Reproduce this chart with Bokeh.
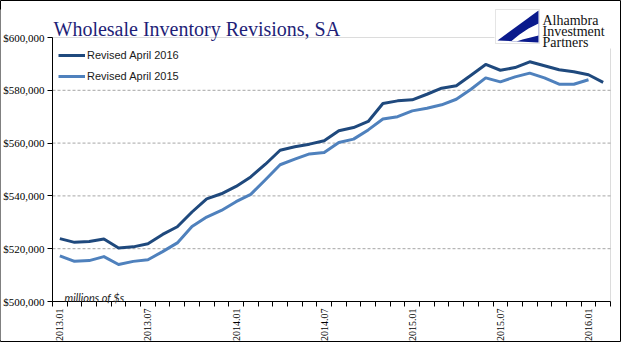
import numpy as np
from bokeh.plotting import figure
from bokeh.models import (FixedTicker, NumeralTickFormatter, Legend, LegendItem, Label,
                          BoxAnnotation, PolyAnnotation, Range1d, ColumnDataSource)
from bokeh.embed import file_html
from bokeh.resources import INLINE

# ---------------- data ----------------
months = [f"{y}.{m:02d}" for y in (2013, 2014, 2015, 2016) for m in range(1, 13)][:38]
# Revised April 2016 (thousands of $ millions)
rev2016 = [523.8, 522.4, 522.7, 523.7, 520.3, 520.7, 521.9, 525.4, 528.3, 533.9,
           538.9, 540.8, 543.6, 547.2, 552.0, 557.3, 558.6, 559.6, 560.9, 564.7,
           565.9, 568.2, 575.0, 576.0, 576.4, 578.5, 580.8, 581.7, 585.7, 589.8,
           587.6, 588.6, 590.8, 589.3, 587.8, 587.0, 585.9, 583.0]
# Revised April 2015
rev2015 = [517.3, 515.2, 515.5, 517.0, 514.0, 515.2, 515.8, 518.9, 522.2, 528.4,
           532.0, 534.5, 537.8, 540.6, 546.1, 551.8, 553.9, 555.9, 556.4, 560.2,
           561.5, 565.0, 569.1, 570.0, 572.2, 573.2, 574.5, 576.6, 580.4, 584.7,
           583.2, 585.1, 586.5, 584.7, 582.3, 582.3, 584.0]
series_names = ["Revised April 2016", "Revised April 2015"]
x_tick_labels = ["2013.01", "2013.07", "2014.01", "2014.07", "2015.01", "2015.07", "2016.01"]
y_ticks = [500000, 520000, 540000, 560000, 580000, 600000]

# ---------------- layout (frame = whole canvas) ----------------
W, H = 621, 342
OFF = 8                      # page margin
PL, PR, PT, PB = 60, 618, 45, 309   # plot area in page pixels
n = len(months)
PX = (PR - PL) / n
PY = (PB - PT) / (y_ticks[-1] - y_ticks[0])
x0 = -0.5 - (PL - OFF) / PX
x1 = x0 + W / PX
y1 = y_ticks[-1] + (PT - OFF) / PY
y0 = y1 - H / PY

def dx(sx):
    return x0 + (sx - OFF) / PX

def dy(sy):
    return y1 - (sy - OFF) / PY

p = figure(width=W, height=H, output_backend="svg", toolbar_location=None,
           x_range=Range1d(x0, x1), y_range=Range1d(y0, y1),
           min_border_left=0, min_border_right=0, min_border_top=0, min_border_bottom=0,
           background_fill_color="white", border_fill_color="white")
p.title.visible = False
p.outline_line_color = "#000000"
p.outline_line_width = 1

# left edge of the outer frame is hidden behind the chart image
p.add_layout(BoxAnnotation(left=dx(7.5), right=dx(10.5), top=dy(17), bottom=dy(348),
                           fill_color="white", fill_alpha=1, line_color=None, level="overlay"))
# plot area border (grey)
p.add_layout(BoxAnnotation(left=-0.5, right=n - 0.5, bottom=y_ticks[0], top=y_ticks[-1],
                           fill_alpha=0, line_color="#8C8C8C", line_width=1, level="underlay"))

# horizontal grid lines, only across the plot area
grid_y = y_ticks[1:-1]
p.segment(x0=[-0.5] * len(grid_y), x1=[n - 0.5] * len(grid_y), y0=grid_y, y1=grid_y,
          line_color="#A6A6A6", line_dash="3 2", line_width=1, level="underlay")

src16 = ColumnDataSource(dict(x=list(range(len(rev2016))), y=[v * 1000 for v in rev2016]))
src15 = ColumnDataSource(dict(x=list(range(len(rev2015))), y=[v * 1000 for v in rev2015]))
dark, light = "#1F497D", "#4F81BD"
r16 = p.line("x", "y", source=src16, line_color=dark, line_width=3, line_join="round")
r15 = p.line("x", "y", source=src15, line_color=light, line_width=3, line_join="round")

p.xgrid.visible = False
p.ygrid.visible = False

# x axis
xa = p.xaxis[0]
tick_idx = [months.index(m) for m in x_tick_labels]
xa.fixed_location = y_ticks[0]
xa.bounds = (-0.5, n - 0.5)
xa.ticker = FixedTicker(ticks=tick_idx, minor_ticks=[i - 0.5 for i in range(n + 1)])
xa.major_label_overrides = {i: months[i] for i in tick_idx}
xa.major_label_orientation = np.pi / 2
xa.major_tick_line_color = None
xa.major_tick_out = 0
xa.major_tick_in = 0
xa.minor_tick_line_color = "#000000"
xa.minor_tick_out = 5
xa.minor_tick_in = 0
xa.axis_line_color = "#000000"
xa.major_label_standoff = 2
xa.major_label_text_font = "Liberation Serif"
xa.major_label_text_font_size = "10px"
xa.major_label_text_color = "#000000"

# y axis
ya = p.yaxis[0]
ya.fixed_location = -0.5
ya.bounds = (y_ticks[0], y_ticks[-1])
ya.ticker = FixedTicker(ticks=y_ticks)
ya.formatter = NumeralTickFormatter(format="$0,0")
ya.minor_tick_line_color = None
ya.major_tick_out = 5
ya.major_tick_in = 0
ya.major_tick_line_color = "#000000"
ya.axis_line_color = "#000000"
ya.major_label_standoff = 3
ya.major_label_text_font = "Liberation Serif"
ya.major_label_text_font_size = "11px"
ya.major_label_text_color = "#000000"

# legend
leg_h = 2 * 4 + 14 + 7 + 14
legend = Legend(items=[LegendItem(label=series_names[0], renderers=[r16]),
                       LegendItem(label=series_names[1], renderers=[r15])],
                location=(66 - OFF, H - (48 - OFF) - leg_h), padding=4, margin=0, spacing=7,
                glyph_width=27, glyph_height=14, label_height=14, label_standoff=2,
                label_text_font="Liberation Sans", label_text_font_size="11px",
                label_text_color="#1A1A1A", background_fill_alpha=0,
                border_line_color=None)
p.add_layout(legend, "center")

# note
p.add_layout(Label(x=dx(72), y=dy(304.5), text="millions of $s", text_font="Lato",
                   text_font_style="italic", text_font_size="11px", text_color="#262626",
                   text_baseline="alphabetic"))

# title
p.add_layout(Label(x=dx(61), y=dy(36), text="Wholesale Inventory Revisions, SA",
                   text_align="left", text_font="Liberation Serif", text_font_size="20px",
                   text_color="#1F1F78", text_baseline="alphabetic"))

# logo
p.add_layout(BoxAnnotation(left=dx(502), right=dx(625), top=dy(12), bottom=dy(56),
                           fill_color="white", fill_alpha=1, line_color=None, level="overlay"))
p.add_layout(BoxAnnotation(left=dx(503), right=dx(547), top=dy(17), bottom=dy(51),
                           fill_color="white", fill_alpha=1, line_color="#A8A8A8",
                           line_width=1, level="overlay"))
blue_sx = [546, 505, 546]
blue_sy = [18, 48, 50]
p.add_layout(PolyAnnotation(xs=[dx(v) for v in blue_sx], ys=[dy(v) for v in blue_sy],
                            fill_color="#0A1A8C", fill_alpha=1, line_color=None, level="overlay"))
notch_sx = [519, 527, 536, 546, 546, 538, 530, 524]
notch_sy = [48.5, 42, 36, 31, 43, 45, 47, 49]
p.add_layout(PolyAnnotation(xs=[dx(v) for v in notch_sx], ys=[dy(v) for v in notch_sy],
                            fill_color="white", fill_alpha=1, line_color=None, level="overlay"))
for txt, base in zip(["Alhambra", "Investment", "Partners"], [28, 39, 50]):
    p.add_layout(Label(x=dx(550), y=dy(base), text=txt, text_font="Liberation Serif",
                       text_font_size="14px", text_color="#111111", text_baseline="alphabetic",
                       level="overlay"))

open("out.html", "w").write(file_html(p, INLINE))
